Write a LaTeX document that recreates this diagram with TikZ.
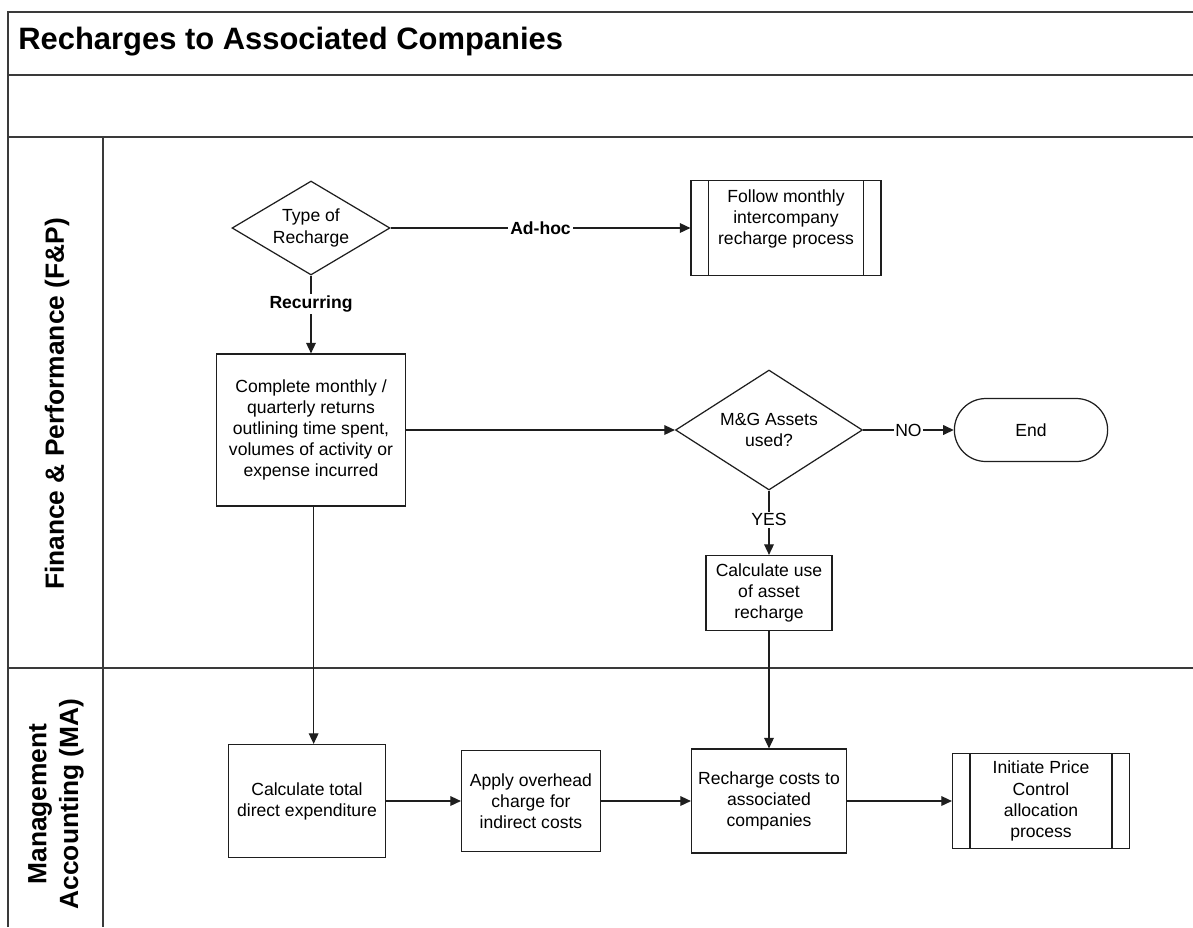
\documentclass[tikz,border=0pt]{standalone}
\usepackage{fontspec}
\setmainfont{Liberation Sans}
\usepackage{tikz}
\usetikzlibrary{arrows.meta,positioning,shapes.geometric,shapes.misc}
\usepackage{xcolor}
\definecolor{rcLine}{HTML}{1E1E1E}
\definecolor{rcFrame}{HTML}{3A3A3A}
\tikzset{
  arr/.style={-{Triangle[length=6pt,width=5.5pt]}, line width=0.7pt, draw=rcLine},
  lbl/.style={fill=white, inner sep=1pt, font=\fontsize{10}{12}\selectfont},
  lblb/.style={fill=white, inner sep=1pt, font=\fontsize{10}{12}\selectfont\bfseries},
  procbox/.style={rectangle, draw=rcLine, fill=white, line width=0.7pt, align=center, inner sep=2pt, font=\fontsize{10}{12}\selectfont},
  subproc/.style={procbox, path picture={
      \draw[rcLine, line width=0.7pt]
        ([xshift=10pt]path picture bounding box.north west) -- ([xshift=10pt]path picture bounding box.south west)
        ([xshift=-10pt]path picture bounding box.north east) -- ([xshift=-10pt]path picture bounding box.south east);}},
  decide/.style={diamond, draw=rcLine, fill=white, line width=0.7pt, align=center, inner sep=0pt, font=\fontsize{10}{12}\selectfont},
  terminal/.style={rounded rectangle, draw=rcLine, fill=white, line width=0.7pt, align=center, font=\fontsize{10}{12}\selectfont},
  lane/.style={draw=rcFrame, line width=0.9pt},
  lanetitle/.style={rotate=90, align=center, font=\fontsize{15}{18}\selectfont\bfseries}
}
\begin{document}
\begin{tikzpicture}[x=0.02cm,y=-0.02cm]
  \useasboundingbox (0,0) rectangle (1193,927);
  % pool frame and lanes
  \draw[lane] (8,927) -- (8,12) -- (1193,12);
  \foreach \y in {75,137,668}{\draw[lane] (8,\y) -- (1193,\y);}
  \draw[lane] (103,137) -- (103,927);
  \node[anchor=west, inner sep=0pt, font=\fontsize{17.6}{20}\selectfont\bfseries] (title) at (18,42) {Recharges to Associated Companies};
  \node[lanetitle] (fp) at (57,404) {Finance \& Performance (F\&P)};
  \node[lanetitle] (ma) at (56,804) {Management\\Accounting (MA)};
  % F&P lane
  \node[decide, aspect=1.68, minimum width=3.16cm, minimum height=1.88cm] (type) at (311,228) {Type of\\Recharge};
  \node[subproc, minimum width=3.8cm, minimum height=1.9cm] (follow) at (786,228) {Follow monthly\\intercompany\\recharge process\\~};
  \node[procbox, minimum width=3.78cm, minimum height=3.04cm] (returns) at (311,430) {Complete monthly /\\quarterly returns\\outlining time spent,\\volumes of activity or\\expense incurred};
  \node[decide, aspect=1.56, minimum width=3.74cm, minimum height=2.4cm] (assets) at (769,430) {M\&G Assets\\used?};
  \node[terminal, minimum width=3.3cm, minimum height=1.26cm] (finish) at (1031,430) {End};
  \node[procbox, minimum width=2.52cm, minimum height=1.5cm] (usecalc) at (769,593) {Calculate use\\of asset\\recharge};
  % MA lane
  \node[procbox, minimum width=3.14cm, minimum height=2.26cm] (direct) at (307,801) {Calculate total\\direct expenditure};
  \node[procbox, minimum width=2.78cm, minimum height=2.02cm] (overhead) at (531,801) {Apply overhead\\charge for\\indirect costs};
  \node[procbox, minimum width=3.1cm, minimum height=2.08cm] (recharge) at (769,801) {Recharge costs to\\associated\\companies};
  \node[subproc, minimum width=3.54cm, minimum height=1.9cm] (price) at (1041,801) {Initiate Price\\Control\\allocation\\process};
  % connectors
  \draw[arr] (type.east) -- node[lblb] (adhoc) {Ad-hoc} (follow.west);
  \draw[arr] (type.south) -- node[lblb, pos=0.36] (recur) {Recurring} (returns.north);
  \draw[arr] (returns.east) -- (assets.west);
  \draw[arr] (assets.east) -- node[lbl] (no) {NO} (finish.west);
  \draw[arr] (assets.south) -- node[lbl, pos=0.45] (yes) {YES} (usecalc.north);
  \draw[arr] (usecalc.south) -- (recharge.north);
  \draw[arr] ([xshift=1.5pt]returns.south) -- ([xshift=1.5pt]returns.south |- direct.north);
  \foreach \a/\b in {direct/overhead,overhead/recharge,recharge/price}{\draw[arr] (\a.east) -- (\b.west);}
\end{tikzpicture}
\end{document}
